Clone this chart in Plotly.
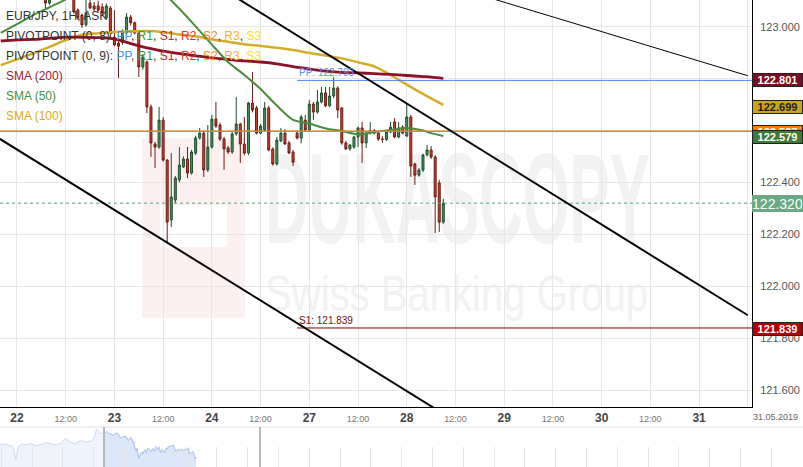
import base64
import pandas as pd
import plotly.graph_objects as go

# ---------------- data ----------------
hours = pd.date_range("2019-05-21 20:00", "2019-05-28 09:00", freq="h")
candle_times = [t.strftime("%Y-%m-%d %H:%M") for t in hours if t.weekday() < 5]

opens = [
    123.20, 123.22, 123.19, 123.23, 123.25, 123.21, 123.17, 123.19, 123.15, 123.17,
    123.14, 123.13, 123.091, 123.15, 123.18, 123.20, 123.17, 123.19, 123.14, 123.064,
    123.045, 123.007, 123.091, 123.080, 123.080, 123.076, 123.034, 123.072, 122.960, 122.937,
    122.940, 122.976, 123.037, 123.015, 122.976, 122.845, 122.864, 122.691, 122.548, 122.536,
    122.640, 122.486, 122.255, 122.332, 122.410, 122.460, 122.490, 122.436, 122.513, 122.571,
    122.590, 122.448, 122.536, 122.644, 122.621, 122.567, 122.533, 122.517, 122.587, 122.625,
    122.548, 122.513, 122.706, 122.687, 122.590, 122.602, 122.687, 122.529, 122.471, 122.560,
    122.590, 122.552, 122.517, 122.590, 122.571, 122.640, 122.602, 122.702, 122.671, 122.710,
    122.745, 122.695, 122.733, 122.764, 122.687, 122.552, 122.529, 122.536, 122.575, 122.610,
    122.552, 122.590, 122.600, 122.590, 122.567, 122.565, 122.594, 122.633, 122.575, 122.613,
    122.579, 122.652, 122.471, 122.428, 122.448, 122.506, 122.525, 122.498, 122.398, 122.247,
]
highs = [
    123.25, 123.27, 123.24, 123.28, 123.29, 123.24, 123.21, 123.22, 123.19, 123.20,
    123.18, 123.16, 123.16, 123.20, 123.22, 123.23, 123.21, 123.22, 123.16, 123.070,
    123.050, 123.110, 123.110, 123.095, 123.100, 123.090, 123.090, 123.080, 123.064, 122.950,
    122.990, 123.053, 123.045, 123.020, 122.985, 122.895, 122.870, 122.700, 122.556, 122.691,
    122.652, 122.490, 122.513, 122.425, 122.536, 122.500, 122.536, 122.525, 122.580, 122.610,
    122.600, 122.621, 122.660, 122.710, 122.630, 122.575, 122.540, 122.595, 122.729, 122.630,
    122.652, 122.710, 122.825, 122.695, 122.625, 122.710, 122.695, 122.535, 122.575, 122.610,
    122.605, 122.560, 122.525, 122.600, 122.660, 122.660, 122.718, 122.710, 122.756, 122.768,
    122.768, 122.768, 122.806, 122.770, 122.690, 122.560, 122.548, 122.580, 122.615, 122.633,
    122.595, 122.633, 122.605, 122.595, 122.578, 122.600, 122.633, 122.648, 122.633, 122.620,
    122.706, 122.660, 122.475, 122.455, 122.510, 122.544, 122.540, 122.505, 122.410, 122.336,
]
lows = [
    123.16, 123.18, 123.15, 123.20, 123.19, 123.15, 123.13, 123.14, 123.12, 123.13,
    123.11, 123.072, 123.084, 123.13, 123.15, 123.16, 123.14, 123.13, 123.050, 123.026,
    122.995, 123.000, 123.068, 123.060, 123.055, 123.045, 123.030, 122.960, 122.925, 122.802,
    122.930, 122.970, 123.005, 122.970, 122.806, 122.835, 122.667, 122.498, 122.455, 122.530,
    122.480, 122.166, 122.228, 122.320, 122.400, 122.455, 122.417, 122.430, 122.505, 122.565,
    122.421, 122.440, 122.530, 122.610, 122.560, 122.448, 122.510, 122.510, 122.580, 122.475,
    122.505, 122.505, 122.670, 122.585, 122.585, 122.595, 122.520, 122.465, 122.465, 122.555,
    122.545, 122.510, 122.463, 122.565, 122.550, 122.595, 122.595, 122.640, 122.665, 122.705,
    122.690, 122.690, 122.725, 122.648, 122.545, 122.525, 122.522, 122.530, 122.536, 122.475,
    122.532, 122.585, 122.585, 122.560, 122.552, 122.560, 122.590, 122.570, 122.570, 122.585,
    122.575, 122.421, 122.390, 122.422, 122.440, 122.500, 122.490, 122.205, 122.209, 122.240,
]
closes = [
    123.22, 123.19, 123.23, 123.25, 123.21, 123.17, 123.19, 123.15, 123.17, 123.14,
    123.13, 123.091, 123.15, 123.18, 123.20, 123.17, 123.19, 123.14, 123.057, 123.034,
    123.007, 123.053, 123.072, 123.068, 123.064, 123.053, 123.080, 122.980, 122.930, 122.925,
    122.980, 123.037, 123.015, 122.976, 122.845, 122.883, 122.691, 122.552, 122.536, 122.640,
    122.486, 122.247, 122.344, 122.417, 122.467, 122.490, 122.436, 122.517, 122.571, 122.590,
    122.448, 122.536, 122.644, 122.617, 122.567, 122.529, 122.517, 122.587, 122.625, 122.548,
    122.513, 122.706, 122.679, 122.590, 122.617, 122.687, 122.525, 122.471, 122.563, 122.590,
    122.548, 122.513, 122.478, 122.571, 122.652, 122.602, 122.702, 122.671, 122.710, 122.745,
    122.695, 122.733, 122.764, 122.679, 122.552, 122.529, 122.544, 122.575, 122.610, 122.552,
    122.590, 122.600, 122.590, 122.567, 122.566, 122.594, 122.613, 122.575, 122.610, 122.590,
    122.652, 122.463, 122.428, 122.448, 122.506, 122.525, 122.498, 122.344, 122.247, 122.320,
]

sma_pos = [0, 4, 8, 12, 16, 20, 24, 28, 32, 36, 40, 44, 48, 52, 56, 60, 64, 68, 72,
           76, 80, 84, 88, 92, 96, 100, 104, 106, 109]
sma200 = [122.945, 122.949, 122.951, 122.955, 122.960, 122.959, 122.958, 122.953, 122.935,
          122.918, 122.906, 122.896, 122.888, 122.880, 122.874, 122.868, 122.864, 122.857,
          122.846, 122.837, 122.829, 122.824, 122.822, 122.819, 122.816, 122.812, 122.808,
          122.806, 122.801]
sma100 = [122.852, 122.874, 122.897, 122.922, 122.948, 122.969, 122.975, 122.980, 122.982,
          122.983, 122.979, 122.970, 122.963, 122.951, 122.942, 122.932, 122.926, 122.919,
          122.910, 122.899, 122.889, 122.878, 122.863, 122.847, 122.814, 122.777, 122.741,
          122.724, 122.699]
sma50 = [122.976, 123.010, 123.045, 123.075, 123.105, 123.142, 123.172, 123.184, 123.184,
         123.169, 123.130, 123.069, 123.001, 122.931, 122.864, 122.814, 122.760, 122.696,
         122.641, 122.627, 122.608, 122.598, 122.585, 122.594, 122.602, 122.610, 122.600,
         122.590, 122.579]

pivot_start = "2019-05-24 21:00"
pp_value = 122.793
s1_value = 121.839
orange_level = 122.597
last_price = 122.320

trend_upper_x = ["2019-05-23 12:00", "2019-05-31 12:00"]
trend_upper_y = [123.287, 121.888]
trend_lower_x = ["2019-05-21 18:00", "2019-05-29 00:00"]
trend_lower_y = [122.585, 121.363]
trend_top_x = ["2019-05-28 12:00", "2019-05-31 12:00"]
trend_top_y = [123.151, 122.811]

tick_times = ["2019-05-22 00:00", "2019-05-22 12:00", "2019-05-23 00:00", "2019-05-23 12:00",
              "2019-05-24 00:00", "2019-05-24 12:00", "2019-05-27 00:00", "2019-05-27 12:00",
              "2019-05-28 00:00", "2019-05-28 12:00", "2019-05-29 00:00", "2019-05-29 12:00",
              "2019-05-30 00:00", "2019-05-30 12:00", "2019-05-31 00:00", "2019-05-31 12:00"]
tick_labels = ["22", "12:00", "23", "12:00", "24", "12:00", "27", "12:00", "28", "12:00",
               "29", "12:00", "30", "12:00", "31", ""]
y_ticks = [121.6, 121.8, 122.0, 122.2, 122.4, 122.6, 122.8, 123.0]

# navigator (hours since 2019-05-21 20:00, trading hours only)
nav_hist_hours = [-124, -118, -113, -108, -105, -102, -97, -92, -87, -81, -75, -69, -63,
                  -57, -51, -46, -40, -34, -28, -22, -16, -12, -9, -5, -1]
nav_hist_vals = [122.78, 122.80, 122.74, 122.70, 122.22, 122.70, 122.80, 122.76, 122.82,
                 122.72, 122.78, 122.85, 122.80, 122.76, 122.82, 123.00, 122.86, 122.80,
                 122.92, 122.87, 122.90, 123.00, 123.34, 123.18, 123.20]

# ---------------- geometry ----------------
W, H = 803, 467
PLOT_R, PLOT_B = 752, 407
x_range = ["2019-05-21 19:49", "2019-05-31 13:02"]
y_range = [121.5345, 123.1029]
nav_window = [-0.18, 185.04]
nav_scale = 156 / (nav_window[1] - nav_window[0])
nav_range = [nav_window[0] - 104 / nav_scale, nav_window[0] + (W - 104) / nav_scale]


def py(px):
    return 1 - px / H


fig = go.Figure()

fig.add_trace(go.Candlestick(
    x=candle_times, open=opens, high=highs, low=lows, close=closes,
    increasing=dict(fillcolor="#47935f", line=dict(color="#1f4f2d", width=1)),
    decreasing=dict(fillcolor="#c8432d", line=dict(color="#6d1c14", width=1)),
    whiskerwidth=0, hoverinfo="skip", showlegend=False, xaxis="x", yaxis="y"))

sma_x = [candle_times[i] for i in sma_pos]
for vals, col, w in [(sma100, "#d3ad29", 2.5), (sma200, "#8a1328", 2.8), (sma50, "#4b8b3b", 2)]:
    fig.add_trace(go.Scatter(x=sma_x, y=vals, mode="lines",
                             line=dict(color=col, width=w, shape="spline", smoothing=0.8),
                             hoverinfo="skip", showlegend=False, xaxis="x", yaxis="y"))

# navigator
nav_x_all = nav_hist_hours + list(range(len(closes)))
fig.add_trace(go.Scatter(x=nav_x_all, y=nav_hist_vals + closes, mode="lines", fill="tozeroy",
                         fillcolor="#eef3fc", line=dict(color="#c8d9f4", width=1),
                         hoverinfo="skip", showlegend=False, xaxis="x2", yaxis="y2"))
fig.add_trace(go.Scatter(x=list(range(len(closes))), y=closes, mode="lines", fill="tozeroy",
                         fillcolor="#dce7f9", line=dict(color="#a9c4ef", width=1),
                         hoverinfo="skip", showlegend=False, xaxis="x2", yaxis="y2"))

shapes = [
    dict(type="line", xref="x", yref="y", x0=pivot_start, x1="2019-05-31 23:00",
         y0=pp_value, y1=pp_value, line=dict(color="#4a86e8", width=1)),
    dict(type="line", xref="x", yref="y", x0=pivot_start, x1="2019-05-31 23:00",
         y0=s1_value, y1=s1_value, line=dict(color="#8b0000", width=1)),
    dict(type="line", xref="x domain", yref="y", x0=0, x1=1, y0=orange_level, y1=orange_level,
         line=dict(color="#ff8000", width=1.5)),
    dict(type="line", xref="x domain", yref="y", x0=0, x1=1, y0=last_price, y1=last_price,
         line=dict(color="#5aa07a", width=1, dash="3px,3px")),
    dict(type="line", xref="x", yref="y", x0=trend_upper_x[0], x1=trend_upper_x[1],
         y0=trend_upper_y[0], y1=trend_upper_y[1], line=dict(color="black", width=2)),
    dict(type="line", xref="x", yref="y", x0=trend_lower_x[0], x1=trend_lower_x[1],
         y0=trend_lower_y[0], y1=trend_lower_y[1], line=dict(color="black", width=2)),
    dict(type="line", xref="x", yref="y", x0=trend_top_x[0], x1=trend_top_x[1],
         y0=trend_top_y[0], y1=trend_top_y[1], line=dict(color="black", width=1)),
    dict(type="line", xref="paper", yref="paper", x0=0, x1=1, y0=py(427), y1=py(427),
         line=dict(color="#e2e2e2", width=1)),
    dict(type="line", xref="x2", yref="y2 domain", x0=nav_window[0], x1=nav_window[0],
         y0=0, y1=1, line=dict(color="#b8b8b8", width=2)),
    dict(type="line", xref="x2", yref="y2 domain", x0=nav_window[1], x1=nav_window[1],
         y0=0, y1=1, line=dict(color="#b8b8b8", width=2)),
]

FONT = "Liberation Sans, Arial, sans-serif"
ann = []
txt = "#333333"
piv = (f"<span style='color:{txt}'>PIVOTPOINT (0, {{n}}): </span>"
       "<span style='color:#4a90e2'>PP</span><span style='color:#333'>, </span>"
       "<span style='color:#3a9a3a'>R1</span><span style='color:#333'>, </span>"
       "<span style='color:#b8262e'>S1</span><span style='color:#333'>, </span>"
       "<span style='color:#e8342a'>R2</span><span style='color:#333'>, </span>"
       "<span style='color:#f98a16'>S2</span><span style='color:#333'>, </span>"
       "<span style='color:#fbb515'>R3</span><span style='color:#333'>, </span>"
       "<span style='color:#f8e20e'>S3</span>")
legend_lines = [
    (16, f"<span style='color:{txt}'>EUR/JPY, 1H, ASK</span>"),
    (36, piv.replace("{n}", "8")),
    (56, piv.replace("{n}", "9")),
    (76, "<span style='color:#9b2336'>SMA (200)</span>"),
    (96, "<span style='color:#3f8f3f'>SMA (50)</span>"),
    (116, "<span style='color:#d4aa1f'>SMA (100)</span>"),
]
for yc, t in legend_lines:
    ann.append(dict(xref="paper", yref="paper", x=4 / W, y=py(yc), xanchor="left",
                    yanchor="middle", text=t, showarrow=False, font=dict(size=12, family=FONT)))

ann.append(dict(xref="x", yref="y", x=pivot_start, y=pp_value, xanchor="left", yanchor="bottom",
                text=f"PP: {pp_value:.3f}", showarrow=False,
                font=dict(size=10, color="#5b8ee6", family=FONT)))
ann.append(dict(xref="x", yref="y", x=pivot_start, y=s1_value, xanchor="left", yanchor="bottom",
                text=f"S1: {s1_value:.3f}", showarrow=False,
                font=dict(size=10, color="#7a1010", family=FONT)))

boxes = [
    (sma200[-1], "#7d0c20", "white", -2, 11),
    (sma100[-1], "#c9a41e", "#222222", -2, 11),
    (orange_level, "#ff8000", "white", -1, 11),
    (sma50[-1], "#3d7a35", "white", -1.5, 11),
    (last_price, "#6aa984", "white", 0, 14),
    (s1_value, "#b00000", "white", -1, 11),
]
for val, bg, fg, ys, fs in boxes:
    ann.append(dict(xref="paper", yref="y", x=PLOT_R / W, y=val, xanchor="left",
                    yanchor="middle", yshift=ys, text=f"<b>{val:.3f}</b>" if fs == 11 else f"{val:.3f}",
                    showarrow=False, bgcolor=bg,
                    bordercolor="#222222" if fs == 11 else bg, borderwidth=1, borderpad=0,
                    width=49, height=12 if fs == 11 else 15,
                    font=dict(size=fs, color=fg, family=FONT)))

ann.append(dict(xref="paper", yref="paper", x=775 / W, y=py(416.5), xanchor="center",
                yanchor="middle", text="31.05.2019", showarrow=False,
                font=dict(size=9, color="#666666", family=FONT)))

tick_text = [f"<b>{t}</b>" if t != "12:00" else
             "<span style='font-size:9px;color:#777'>12:00</span>" for t in tick_labels]

svg = f'''<svg xmlns="http://www.w3.org/2000/svg" width="{W}" height="{H}" viewBox="0 0 {W} {H}">
<rect x="142" y="138" width="103" height="180" fill="#fcf0f0"/>
<rect x="160" y="205" width="67" height="42" fill="#ffffff"/>
<text x="265" y="243" font-family="Liberation Sans, Arial, sans-serif" font-weight="bold" font-size="128" fill="#f2f2f2" textLength="385" lengthAdjust="spacingAndGlyphs">DUKASCOPY</text>
<text x="265" y="311" font-family="Liberation Sans, Arial, sans-serif" font-size="50" fill="#f2f2f2" textLength="383" lengthAdjust="spacingAndGlyphs">Swiss Banking Group</text>
</svg>'''
svg_uri = "data:image/svg+xml;base64," + base64.b64encode(svg.encode()).decode()

fig.update_layout(
    width=W, height=H, autosize=False, margin=dict(l=0, r=0, t=0, b=0),
    paper_bgcolor="white", plot_bgcolor="rgba(0,0,0,0)", showlegend=False,
    font=dict(family=FONT),
    xaxis=dict(domain=[0, PLOT_R / W], anchor="y", type="date", range=x_range,
               rangebreaks=[dict(bounds=["sat", "mon"])], rangeslider=dict(visible=False),
               tickmode="array", tickvals=tick_times, ticktext=tick_text,
               showgrid=True, gridcolor="#e6e6e6", gridwidth=1, showline=True,
               linecolor="black", linewidth=1, ticks="", zeroline=False,
               tickfont=dict(size=12, color="#444444", family=FONT), fixedrange=True),
    yaxis=dict(domain=[1 - PLOT_B / H, 1], anchor="x", side="right", range=y_range,
               tickmode="array", tickvals=y_ticks, ticktext=[f"{v:.3f}" for v in y_ticks],
               showgrid=True, gridcolor="#e6e6e6", gridwidth=1, showline=True,
               linecolor="black", linewidth=1, ticks="", ticklabelstandoff=5, zeroline=False,
               tickfont=dict(size=11, color="#555555", family=FONT), fixedrange=True),
    xaxis2=dict(domain=[0, 1], anchor="y2", range=nav_range, showgrid=False,
                showticklabels=False, ticks="inside", ticklen=20, tickcolor="#e4e4e4",
                tickmode="linear", tick0=nav_range[0] + 32 / nav_scale, dtick=30.8 / nav_scale,
                zeroline=False, showline=False, fixedrange=True),
    yaxis2=dict(domain=[0, 40 / H], anchor="x2", range=[121.953, 123.42], visible=False,
                fixedrange=True),
    shapes=shapes,
    annotations=ann,
    images=[dict(source=svg_uri, xref="paper", yref="paper", x=0, y=1, sizex=1, sizey=1,
                 xanchor="left", yanchor="top", sizing="stretch", layer="below")],
)

fig.write_html(
    "out.html",
    config={"displayModeBar": False, "staticPlot": True},
    post_script="document.body.style.margin='0';document.body.style.padding='0';"
                "document.body.style.overflow='hidden';",
)
